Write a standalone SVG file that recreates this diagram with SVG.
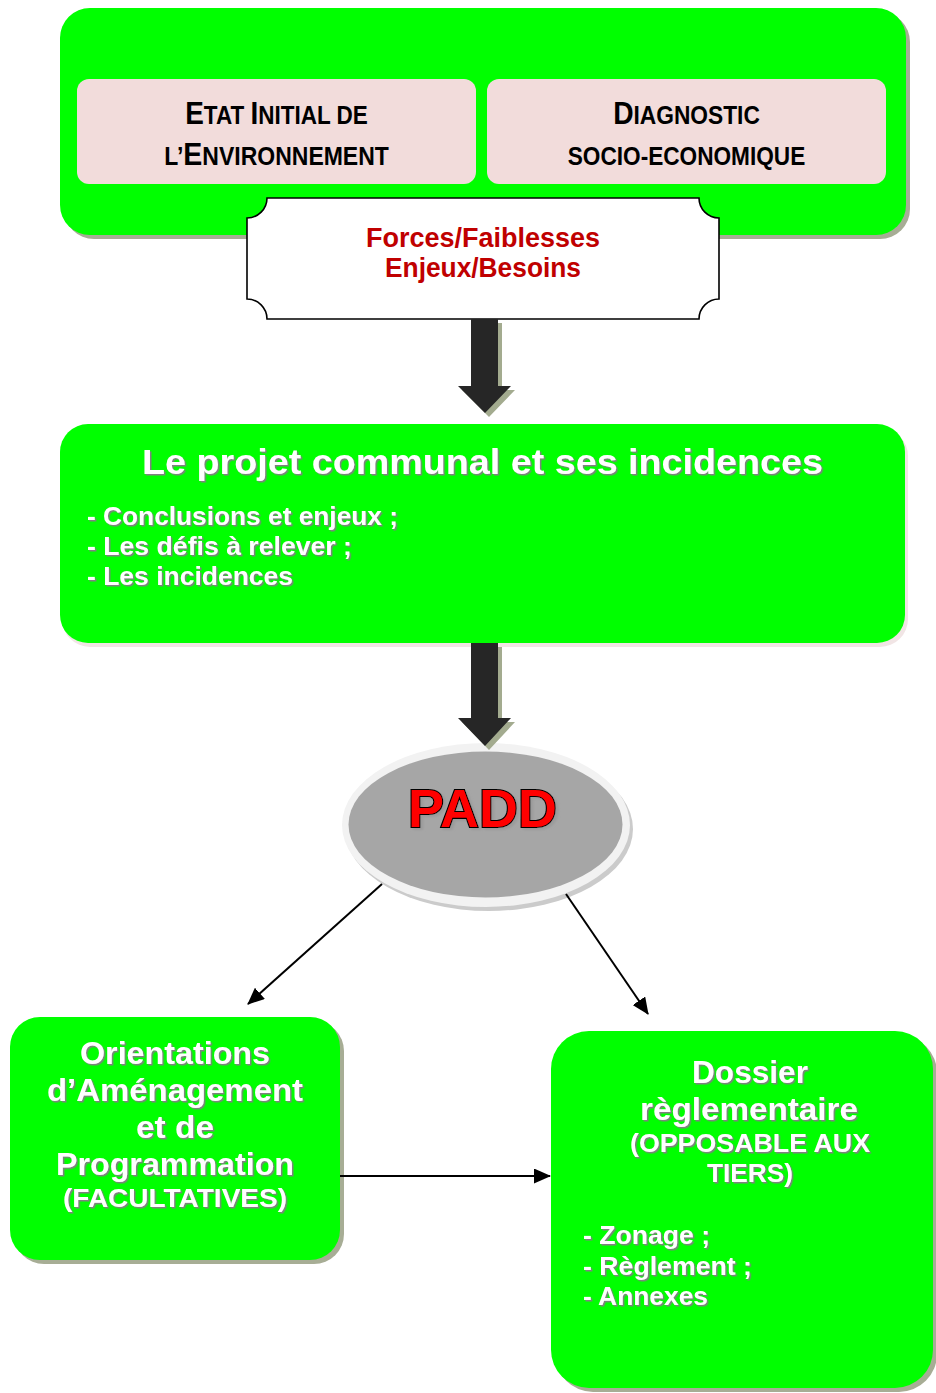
<svg xmlns="http://www.w3.org/2000/svg" width="936" height="1393" viewBox="0 0 936 1393">
<defs>
<style>
.green{fill:#00ff00}
.shadowG{fill:#a7ad95}
.pink{fill:#f2dcdb}
.cap{font-family:"Liberation Sans",Arial,sans-serif;font-weight:bold;fill:#000;text-anchor:middle}
.red{font-family:"Liberation Sans",Arial,sans-serif;font-weight:bold;fill:#c00000;text-anchor:middle;font-size:28px}
.wt{font-family:"Liberation Sans",Arial,sans-serif;font-weight:bold;fill:#fff;filter:url(#ts)}
.mid{text-anchor:middle}
.thin{stroke:#000;stroke-width:2;fill:none;marker-end:url(#ah)}
.big{fill:#262626}
.bigS{fill:#a3ab8f}
</style>
<filter id="ts" x="-5%" y="-20%" width="110%" height="140%">
<feDropShadow dx="1.5" dy="1.5" stdDeviation="0.7" flood-color="#808080" flood-opacity="1"/>
</filter>
<filter id="ps" x="-5%" y="-20%" width="110%" height="140%">
<feDropShadow dx="2.5" dy="2" stdDeviation="0.8" flood-color="#9a9a9a" flood-opacity="1"/>
</filter>
<marker id="ah" viewBox="0 0 17 15" refX="16" refY="7.5" markerWidth="17" markerHeight="15" markerUnits="userSpaceOnUse" orient="auto">
<path d="M0,0 L17,7.5 L0,15 Z" fill="#000"/>
</marker>
</defs>
<rect width="936" height="1393" fill="#fff"/>

<g id="analyse">
<rect class="shadowG" x="64" y="12" width="846" height="227" rx="30"/>
<rect class="green" x="60" y="8" width="846" height="227" rx="30"/>
</g>

<g id="etat-initial">
<rect class="pink" x="77" y="79" width="399" height="105" rx="12"/>
<text class="cap" transform="translate(276.5,124) scale(0.9,1)" x="0" y="0"><tspan font-size="31">E</tspan><tspan font-size="25">TAT </tspan><tspan font-size="31">I</tspan><tspan font-size="25">NITIAL DE</tspan></text>
<text class="cap" transform="translate(276.5,165) scale(0.92,1)" x="0" y="0"><tspan font-size="25">L’</tspan><tspan font-size="31">E</tspan><tspan font-size="25">NVIRONNEMENT</tspan></text>
</g>

<g id="diagnostic">
<rect class="pink" x="487" y="79" width="399" height="105" rx="12"/>
<text class="cap" transform="translate(686.5,124) scale(0.91,1)" x="0" y="0"><tspan font-size="31">D</tspan><tspan font-size="25">IAGNOSTIC</tspan></text>
<text class="cap" transform="translate(686.5,165) scale(0.905,1)" x="0" y="0" font-size="25">SOCIO-ECONOMIQUE</text>
</g>

<g id="forces">
<path d="M267,198 H699 A20,20 0 0 0 719,218 V299 A20,20 0 0 0 699,319 H267 A20,20 0 0 0 247,299 V218 A20,20 0 0 0 267,198 Z" fill="#fff" stroke="#000" stroke-width="1.6"/>
<text class="red" x="483" y="247" textLength="234" lengthAdjust="spacingAndGlyphs">Forces/Faiblesses</text>
<text class="red" x="483" y="277" textLength="196" lengthAdjust="spacingAndGlyphs">Enjeux/Besoins</text>
</g>

<g id="projet">
<rect x="62" y="428" width="846" height="219" rx="28" fill="#f1e5e5"/>
<rect class="green" x="60" y="424" width="845" height="219" rx="28"/>
<text class="wt mid" x="482.5" y="474" font-size="35" textLength="681" lengthAdjust="spacingAndGlyphs">Le projet communal et ses incidences</text>
<text class="wt" x="87" y="525" font-size="26" textLength="311" lengthAdjust="spacingAndGlyphs">- Conclusions et enjeux ;</text>
<text class="wt" x="87" y="555" font-size="26" textLength="265" lengthAdjust="spacingAndGlyphs">- Les défis à relever ;</text>
<text class="wt" x="87" y="585" font-size="26" textLength="206" lengthAdjust="spacingAndGlyphs">- Les incidences</text>
</g>

<g id="padd">
<ellipse cx="489" cy="829" rx="144" ry="82" fill="#cbcbcb"/>
<ellipse cx="486" cy="825" rx="144" ry="82" fill="#f2f2f2"/>
<ellipse cx="485.5" cy="824.5" rx="137" ry="73" fill="#a6a6a6"/>
<text x="482.5" y="827" font-family="'Liberation Sans',Arial,sans-serif" font-weight="bold" font-size="53" text-anchor="middle" fill="#ff0000" stroke="#000" stroke-width="2.2" paint-order="stroke" filter="url(#ps)" textLength="149" lengthAdjust="spacingAndGlyphs">PADD</text>
</g>

<g id="orientations">
<rect class="shadowG" x="14" y="1021" width="330" height="243" rx="30"/>
<rect class="green" x="10" y="1017" width="330" height="243" rx="30"/>
<text class="wt mid" x="175" y="1064" font-size="31" textLength="190" lengthAdjust="spacingAndGlyphs">Orientations</text>
<text class="wt mid" x="175" y="1101" font-size="31" textLength="256" lengthAdjust="spacingAndGlyphs">d’Aménagement</text>
<text class="wt mid" x="175" y="1138" font-size="31" textLength="78" lengthAdjust="spacingAndGlyphs">et de</text>
<text class="wt mid" x="175" y="1175" font-size="31" textLength="238" lengthAdjust="spacingAndGlyphs">Programmation</text>
<text class="wt mid" x="175" y="1207" font-size="26" textLength="224" lengthAdjust="spacingAndGlyphs">(FACULTATIVES)</text>
</g>

<g id="dossier">
<rect class="shadowG" x="555" y="1035" width="382" height="357" rx="38"/>
<rect class="green" x="551" y="1031" width="382" height="357" rx="38"/>
<text class="wt mid" x="750" y="1083" font-size="31" textLength="116" lengthAdjust="spacingAndGlyphs">Dossier</text>
<text class="wt mid" x="749" y="1120" font-size="31" textLength="218" lengthAdjust="spacingAndGlyphs">règlementaire</text>
<text class="wt mid" x="750" y="1152" font-size="26" textLength="240" lengthAdjust="spacingAndGlyphs">(OPPOSABLE AUX</text>
<text class="wt mid" x="750" y="1182" font-size="26" textLength="86" lengthAdjust="spacingAndGlyphs">TIERS)</text>
<text class="wt" x="583" y="1244" font-size="26" textLength="127" lengthAdjust="spacingAndGlyphs">- Zonage ;</text>
<text class="wt" x="583" y="1275" font-size="26" textLength="169" lengthAdjust="spacingAndGlyphs">- Règlement ;</text>
<text class="wt" x="583" y="1305" font-size="26" textLength="125" lengthAdjust="spacingAndGlyphs">- Annexes</text>
</g>

<g id="connectors">
<path class="bigS" d="M475,323 H502 V390 H515 L489,417 L462,390 H475 Z"/>
<path class="big" d="M471,319 H498 V386 H511 L485,413 L458,386 H471 Z"/>
<path class="bigS" d="M475,647 H502 V722 H515 L489,750 L462,722 H475 Z"/>
<path class="big" d="M471,643 H498 V718 H511 L485,746 L458,718 H471 Z"/>
<line class="thin" x1="382" y1="884" x2="248" y2="1004"/>
<line class="thin" x1="566" y1="894" x2="648" y2="1014"/>
<line class="thin" x1="340" y1="1176" x2="550" y2="1176"/>
</g>
</svg>
